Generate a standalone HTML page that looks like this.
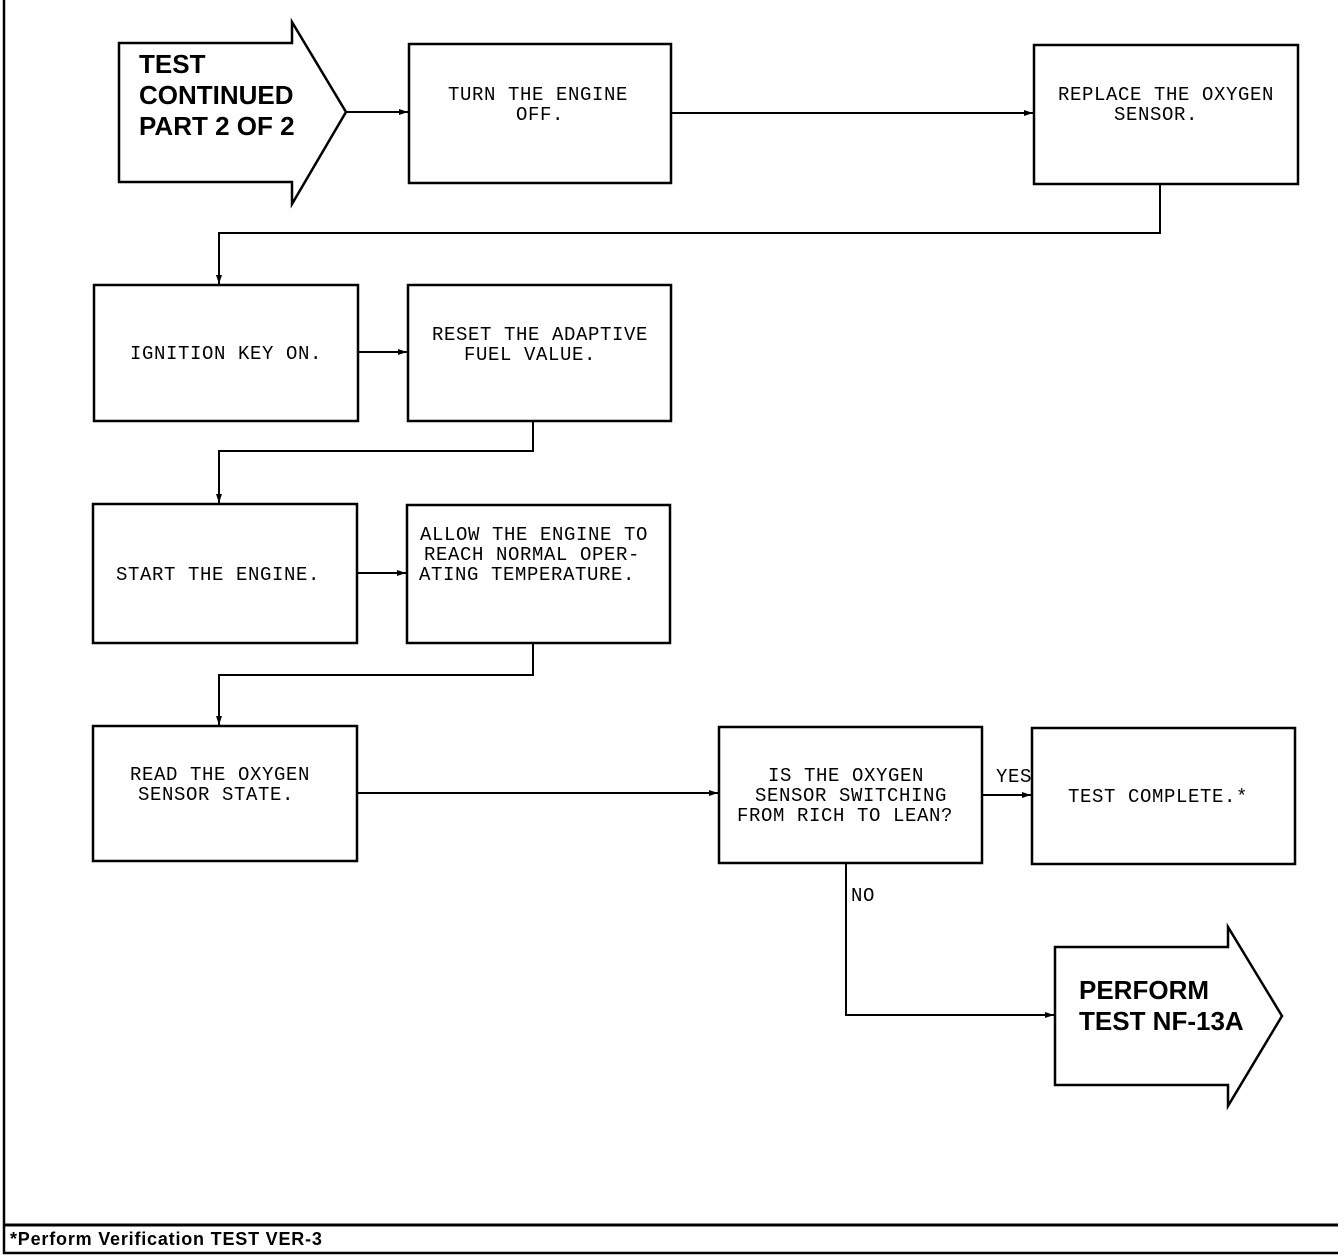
<!DOCTYPE html>
<html><head><meta charset="utf-8"><style>
body{margin:0;background:#fff}
svg{display:block}
.t{font-family:"Liberation Mono",monospace;font-size:19px;letter-spacing:0.6px;fill:#000}
.b{font-family:"Liberation Sans",sans-serif;font-weight:bold;font-size:26px;fill:#000}
</style></head><body>
<svg width="1344" height="1256" viewBox="0 0 1344 1256" xmlns="http://www.w3.org/2000/svg">
<defs><marker id="a" markerWidth="10" markerHeight="8" refX="9" refY="4" orient="auto" markerUnits="userSpaceOnUse"><path d="M0,1 L9,4 L0,7 Z" fill="#000"/></marker></defs>
<g fill="none" stroke="#000" stroke-width="2.5">
<line x1="4" y1="0" x2="4" y2="1254"/>
<line x1="3" y1="1225" x2="1338" y2="1225" stroke-width="3"/>
<line x1="3" y1="1253" x2="1338" y2="1253"/>
<polygon points="119,43 292,43 292,22 346,112 292,204 292,182 119,182"/>
<polygon points="1055,947 1228,947 1228,927 1282,1016 1228,1106 1228,1085 1055,1085"/>
<rect x="409" y="44" width="262" height="139"/>
<rect x="1034" y="45" width="264" height="139"/>
<rect x="94" y="285" width="264" height="136"/>
<rect x="408" y="285" width="263" height="136"/>
<rect x="93" y="504" width="264" height="139"/>
<rect x="407" y="505" width="263" height="138"/>
<rect x="93" y="726" width="264" height="135"/>
<rect x="719" y="727" width="263" height="136"/>
<rect x="1032" y="728" width="263" height="136"/>
</g>
<g fill="none" stroke="#000" stroke-width="2" marker-end="url(#a)">
<line x1="346" y1="112" x2="408" y2="112"/>
<line x1="671" y1="113" x2="1033" y2="113"/>
<polyline points="1160,184 1160,233 219,233 219,284"/>
<line x1="358" y1="352" x2="407" y2="352"/>
<polyline points="533,421 533,451 219,451 219,503"/>
<line x1="357" y1="573" x2="406" y2="573"/>
<polyline points="533,643 533,675 219,675 219,725"/>
<line x1="357" y1="793" x2="718" y2="793"/>
<line x1="982" y1="795" x2="1031" y2="795"/>
<polyline points="846,863 846,1015 1054,1015"/>
</g>
<g class="b">
<text x="139" y="73">TEST</text>
<text x="139" y="104">CONTINUED</text>
<text x="139" y="135">PART 2 OF 2</text>
<text x="1079" y="999">PERFORM</text>
<text x="1079" y="1030">TEST NF-13A</text>
</g>
<g class="t" text-anchor="middle">
<text x="538" y="100">TURN THE ENGINE</text>
<text x="540" y="120">OFF.</text>
<text x="1166" y="100">REPLACE THE OXYGEN</text>
<text x="1156" y="120">SENSOR.</text>
<text x="226" y="359">IGNITION KEY ON.</text>
<text x="540" y="340">RESET THE ADAPTIVE</text>
<text x="530" y="360">FUEL VALUE.</text>
<text x="218" y="580">START THE ENGINE.</text>
<text x="534" y="540">ALLOW THE ENGINE TO</text>
<text x="532" y="560">REACH NORMAL OPER-</text>
<text x="527" y="580">ATING TEMPERATURE.</text>
<text x="220" y="780">READ THE OXYGEN</text>
<text x="216" y="800">SENSOR STATE.</text>
<text x="846" y="781">IS THE OXYGEN</text>
<text x="851" y="801">SENSOR SWITCHING</text>
<text x="845" y="821">FROM RICH TO LEAN?</text>
<text x="1158" y="802">TEST COMPLETE.*</text>
<text x="1014" y="782">YES</text>
<text x="863" y="901">NO</text>
</g>
<text x="10" y="1245" font-family="Liberation Sans,sans-serif" font-weight="bold" font-size="18" letter-spacing="0.8">*Perform Verification TEST VER-3</text>
</svg>
</body></html>
